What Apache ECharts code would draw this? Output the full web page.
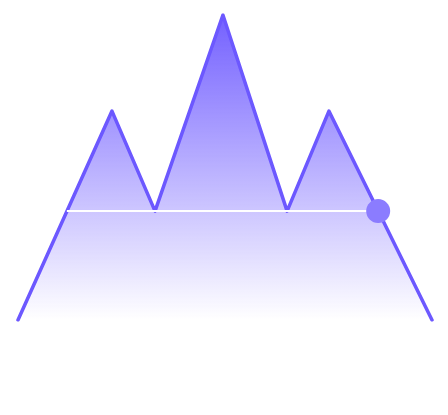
<!DOCTYPE html>
<html>
<head>
<meta charset="utf-8">
<script src="https://cdn.jsdelivr.net/npm/echarts@6/dist/echarts.min.js"></script>
<style>
  html, body { margin: 0; padding: 0; background: #fff; }
  #chart { width: 448px; height: 415px; }
</style>
</head>
<body>
<div id="chart"></div>
<script>
// mountain outline
const peakX = [0, 22.7, 33.1, 49.5, 65, 75.1, 100];
const peakY = [0, 68.5, 35.7, 100, 35.7, 68.5, 0];
// horizontal level line and its marker
const levelX = [11.8, 87.0];
const levelY = 35.7;
const markerX = 87.0;

const chart = echarts.init(document.getElementById('chart'));

chart.setOption({
    animation: false,
    grid: { left: 18, right: 16, top: 15, bottom: 95 },
    xAxis: { type: 'value', min: 0, max: 100, show: false },
    yAxis: { type: 'value', min: 0, max: 100, show: false },
    series: [
        {
            type: 'line',
            data: peakX.map((x, i) => [x, peakY[i]]),
            symbol: 'none',
            lineStyle: { color: '#6c58ff', width: 3.5, join: 'round', cap: 'round' },
            areaStyle: {
                opacity: 1,
                color: new echarts.graphic.LinearGradient(0, 0, 0, 1, [
                    { offset: 0, color: 'rgba(108,88,255,0.95)' },
                    { offset: 1, color: 'rgba(108,88,255,0.0)' }
                ])
            },
            z: 2
        },
        {
            type: 'line',
            data: levelX.map(x => [x, levelY]),
            symbol: 'none',
            lineStyle: { color: '#ffffff', width: 2 },
            z: 3
        },
        {
            type: 'scatter',
            data: [[markerX, levelY]],
            symbolSize: 24,
            itemStyle: { color: '#8b7cff', opacity: 1 },
            z: 4
        }
    ]
});
</script>
</body>
</html>
